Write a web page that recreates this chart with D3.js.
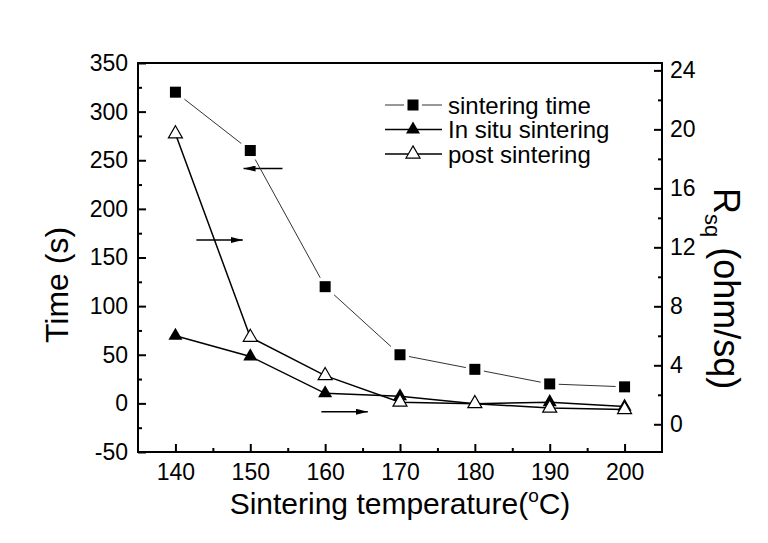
<!DOCTYPE html>
<html>
<head>
<meta charset="utf-8">
<script src="https://cdn.jsdelivr.net/npm/d3@7"></script>
<style>
  body { margin: 0; background: #fff; }
  text { font-family: "Liberation Sans", Arial, sans-serif; fill: #000; }
</style>
</head>
<body>
<script>
// 数据
var temps = [140, 150, 160, 170, 180, 190, 200];
var sinteringTime = [320, 260, 120, 50, 35, 20, 17];
var inSitu = [6.0, 4.6, 2.1, 1.9, 1.4, 1.5, 1.2];
var postSintering = [19.7, 5.9, 3.3, 1.5, 1.4, 1.1, 1.0];

var xTicks = [140, 150, 160, 170, 180, 190, 200];
var leftTicks = [-50, 0, 50, 100, 150, 200, 250, 300, 350];
var rightTicks = [0, 4, 8, 12, 16, 20, 24];
var legendNames = ['sintering time', 'In situ sintering', 'post sintering'];

// arrows: [x from, x to, value, axis]
var arrows = [[154.3, 149.1, 241.5, 'left'], [142.8, 149.0, 12.5, 'right'], [159.5, 165.7, 0.85, 'right']];

var width = 768;
var height = 543;
var pLeft = 138, pRight = 662, pTop = 63, pBottom = 452;

var x = d3.scaleLinear().domain([135, 205]).range([pLeft, pRight]);
var yL = d3.scaleLinear().domain([-50, 350]).range([pBottom, pTop]);
var yR = d3.scaleLinear().domain([-1.88, 24.5]).range([pBottom, pTop]);

// 用普通减号
var fmt = function(d){ return String(d); };

var svg = d3.select('body')
            .append('svg')
            .attr('width', width)
            .attr('height', height);

// 坐标轴
svg.append('g')
   .attr('transform', 'translate(0,' + pBottom + ')')
   .call(d3.axisBottom(x).tickValues(xTicks).tickSize(-8).tickPadding(12).tickFormat(fmt));
svg.append('g')
   .attr('transform', 'translate(0,' + pBottom + ')')
   .call(d3.axisBottom(x).tickValues(d3.range(145, 205, 10)).tickSize(-4).tickFormat(''));

svg.append('g')
   .attr('transform', 'translate(' + pLeft + ',0)')
   .call(d3.axisLeft(yL).tickValues(leftTicks).tickSize(-8).tickPadding(10).tickFormat(fmt));
svg.append('g')
   .attr('transform', 'translate(' + pLeft + ',0)')
   .call(d3.axisLeft(yL).tickValues(d3.range(-25, 350, 50)).tickSize(-4).tickFormat(''));

svg.append('g')
   .attr('transform', 'translate(' + pRight + ',0)')
   .call(d3.axisRight(yR).tickValues(rightTicks).tickSize(-8).tickPadding(8).tickFormat(fmt));
svg.append('g')
   .attr('transform', 'translate(' + pRight + ',0)')
   .call(d3.axisRight(yR).tickValues(d3.range(2, 24, 4)).tickSize(-4).tickFormat(''));

svg.selectAll('.domain').remove();
svg.selectAll('.tick line').attr('stroke', '#000').attr('stroke-width', 2);
svg.selectAll('.tick text')
   .style('font-size', '23px')
   .style('font-family', '"Liberation Sans", Arial, sans-serif');

svg.append('rect')
   .attr('x', pLeft).attr('y', pTop)
   .attr('width', pRight - pLeft).attr('height', pBottom - pTop)
   .attr('fill', 'none').attr('stroke', '#000').attr('stroke-width', 2);

// 箭头
svg.append('defs').append('marker')
   .attr('id', 'head')
   .attr('viewBox', '0 0 12 6')
   .attr('refX', 12).attr('refY', 3)
   .attr('markerWidth', 12).attr('markerHeight', 6)
   .attr('markerUnits', 'userSpaceOnUse')
   .attr('orient', 'auto')
   .append('path')
   .attr('d', 'M0,0 L12,3 L0,6 Z')
   .attr('fill', '#000');

svg.selectAll('.arrow')
   .data(arrows)
   .enter()
   .append('line')
   .attr('x1', function(d){ return x(d[0]); })
   .attr('x2', function(d){ return x(d[1]); })
   .attr('y1', function(d){ return d[3] === 'left' ? yL(d[2]) : yR(d[2]); })
   .attr('y2', function(d){ return d[3] === 'left' ? yL(d[2]) : yR(d[2]); })
   .attr('stroke', '#000')
   .attr('stroke-width', 1.5)
   .attr('marker-end', 'url(#head)');

// 曲线
var lineL = d3.line()
              .x(function(d, i){ return x(temps[i]); })
              .y(function(d){ return yL(d); });
var lineR = d3.line()
              .x(function(d, i){ return x(temps[i]); })
              .y(function(d){ return yR(d); });

var tri = d3.symbol().type(d3.symbolTriangle).size(85);

svg.append('path')
   .attr('d', lineL(sinteringTime))
   .attr('fill', 'none').attr('stroke', '#333').attr('stroke-width', 1);

svg.selectAll('.sqBg')
   .data(sinteringTime)
   .enter()
   .append('rect')
   .attr('x', function(d, i){ return x(temps[i]) - 9; })
   .attr('y', function(d){ return yL(d) - 9; })
   .attr('width', 18).attr('height', 18)
   .attr('fill', '#fff');

svg.selectAll('.sq')
   .data(sinteringTime)
   .enter()
   .append('rect')
   .attr('x', function(d, i){ return x(temps[i]) - 5.5; })
   .attr('y', function(d){ return yL(d) - 5.5; })
   .attr('width', 11).attr('height', 11)
   .attr('fill', '#000');

svg.append('path')
   .attr('d', lineR(inSitu))
   .attr('fill', 'none').attr('stroke', '#000').attr('stroke-width', 1.5);

svg.selectAll('.fTri')
   .data(inSitu)
   .enter()
   .append('path')
   .attr('d', tri)
   .attr('transform', function(d, i){ return 'translate(' + x(temps[i]) + ',' + yR(d) + ')'; })
   .attr('fill', '#000');

svg.append('path')
   .attr('d', lineR(postSintering))
   .attr('fill', 'none').attr('stroke', '#000').attr('stroke-width', 1.5);

svg.selectAll('.oTri')
   .data(postSintering)
   .enter()
   .append('path')
   .attr('d', tri)
   .attr('transform', function(d, i){ return 'translate(' + x(temps[i]) + ',' + yR(d) + ')'; })
   .attr('fill', '#fff')
   .attr('stroke', '#000')
   .attr('stroke-width', 1.2);

// 图例
var legend = svg.selectAll('.legend')
                .data(legendNames)
                .enter()
                .append('g')
                .attr('transform', function(d, i){ return 'translate(0,' + (105 + i * 24.5) + ')'; });

legend.append('line')
      .attr('x1', 385).attr('x2', 442)
      .attr('stroke', function(d, i){ return i === 0 ? '#333' : '#000'; })
      .attr('stroke-width', function(d, i){ return i === 0 ? 1 : 1.5; });

legend.each(function(d, i){
  var g = d3.select(this);
  if (i === 0) {
    g.append('rect').attr('x', 404).attr('y', -9).attr('width', 18).attr('height', 18).attr('fill', '#fff');
    g.append('rect').attr('x', 407.5).attr('y', -5.5).attr('width', 11).attr('height', 11).attr('fill', '#000');
  } else {
    g.append('path')
     .attr('d', tri)
     .attr('transform', 'translate(413,0)')
     .attr('fill', i === 1 ? '#000' : '#fff')
     .attr('stroke', i === 1 ? 'none' : '#000')
     .attr('stroke-width', 1.2);
  }
});

legend.append('text')
      .attr('x', 448)
      .attr('y', 8.5)
      .style('font-size', '24px')
      .text(function(d){ return d; });

// 坐标轴标题
svg.append('text')
   .attr('transform', 'translate(68,285) rotate(-90)')
   .attr('text-anchor', 'middle')
   .style('font-size', '32px')
   .text('Time (s)');

var xt = svg.append('text')
            .attr('x', 400)
            .attr('y', 514)
            .attr('text-anchor', 'middle')
            .style('font-size', '30px');
xt.append('tspan').text('Sintering temperature(');
xt.append('tspan').attr('dy', -12).style('font-size', '19px').text('o');
xt.append('tspan').attr('dy', 12).text('C)');

var rt = svg.append('text')
            .attr('transform', 'translate(714,188) rotate(90)')
            .style('font-size', '36px');
rt.append('tspan').text('R');
rt.append('tspan').attr('dy', 9).style('font-size', '22px').text('sq');
rt.append('tspan').attr('dy', -9).text(' (ohm/sq)');
</script>
</body>
</html>
